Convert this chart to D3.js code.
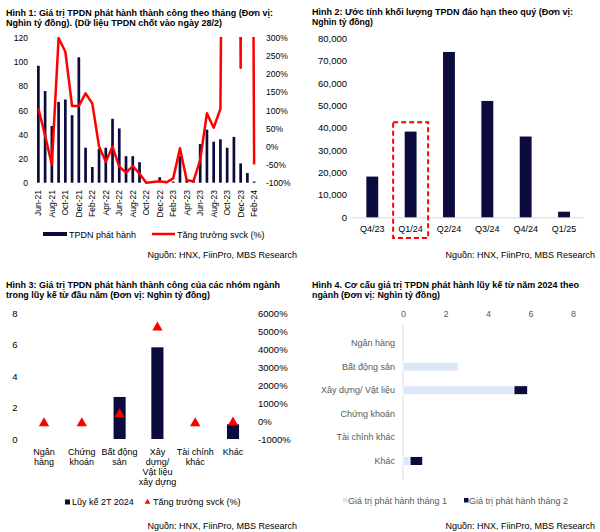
<!DOCTYPE html>
<html><head><meta charset="utf-8">
<script src="https://cdn.jsdelivr.net/npm/d3@7"></script>
<style>
html,body{margin:0;padding:0;background:#fff;}
svg{display:block;font-family:"Liberation Sans",Arial,sans-serif;}
</style></head>
<body>
<svg id="c" width="600" height="532"></svg>
<script>
// ---------- DATA ----------
const months = ["Jun-21","Jul-21","Aug-21","Sep-21","Oct-21","Nov-21","Dec-21","Jan-22","Feb-22","Mar-22","Apr-22","May-22","Jun-22","Jul-22","Aug-22","Sep-22","Oct-22","Nov-22","Dec-22","Jan-23","Feb-23","Mar-23","Apr-23","May-23","Jun-23","Jul-23","Aug-23","Sep-23","Oct-23","Nov-23","Dec-23","Jan-24","Feb-24"];
const issuance = [97,76,47,67,69,56,104,29,13,28,29,53,45,22,22,17,0.3,0.5,4.5,0.3,1,22,2,1.5,32,44,34,36,29,38,16,8,1];
const growth = [105,30,-50,300,262,112,112,147,119,0,-42,0,-56,-72,-54,-75,-100,-98,-96,-99,-88,-5,-93,-96,-37,92,52,104,2500,3500,218,4000,-50];
const leftTicks1 = [0,20,40,60,80,100,120];
const rightTicks1 = [-100,-50,0,50,100,150,200,250,300];

const quarters = ["Q4/23","Q1/24","Q2/24","Q3/24","Q4/24","Q1/25"];
const maturity = [18200,38300,73900,52000,36100,2500];
const ticks2 = [0,10000,20000,30000,40000,50000,60000,70000,80000];

const sectors3 = ["Ngân hàng","Chứng khoán","Bất động sản","Xây dựng/ Vật liệu xây dựng","Tài chính khác","Khác"];
const sectorLines3 = [["Ngân","hàng"],["Chứng","khoán"],["Bất động","sản"],["Xây","dựng/","Vật liệu","xây dựng"],["Tài chính","khác"],["Khác"]];
const ytd3 = [0,0,2.67,5.82,0,0.93];
const growth3 = [-100,-100,400,5200,-100,-60];
const leftTicks3 = [0,2,4,6,8];
const rightTicks3 = [-1000,0,1000,2000,3000,4000,5000,6000];

const sectors4 = ["Ngân hàng","Bất động sản","Xây dựng/ Vật liệu","Chứng khoán","Tài chính khác","Khác"];
const month1 = [0,2.6,5.22,0,0,0.33];
const month2 = [0,0,0.65,0,0,0.6];
const ticks4 = [0,2,4,6,8];

// ---------- STYLE ----------
const NAVY = "#0c0b3e", RED = "#ff0000", LIGHT = "#dbe7f7", GRAY = "#595959";
const svg = d3.select("#c");
svg.append("rect").attr("width",600).attr("height",532).attr("fill","#fff");

function title(x, y, txt, len){
  svg.append("text").attr("x",x).attr("y",y).attr("font-size",9.5).attr("font-weight","bold")
    .attr("fill","#000").attr("textLength",len).attr("lengthAdjust","spacingAndGlyphs").text(txt);
}
function source(xEnd, y){
  svg.append("text").attr("x",xEnd).attr("y",y).attr("text-anchor","end").attr("font-size",9)
    .attr("fill","#000").text("Nguồn: HNX, FiinPro, MBS Research");
}
function cleanAxis(g){ g.select(".domain").remove(); g.selectAll(".tick line").remove(); g.attr("font-family",null); }

// ================= CHART 1 =================
title(6,15.5,"Hình 1: Giá trị TPDN phát hành thành công theo tháng (Đơn vị:",267);
title(6,25.5,"Nghìn tỷ đồng). (Dữ liệu TPDN chốt vào ngày 28/2)",216);

const x1 = d3.scaleBand().domain(months).range([35,257.5]).paddingInner(0.6).paddingOuter(0.3);
const y1 = d3.scaleLinear().domain([0,120]).range([182.7,38]);
const y1r = d3.scaleLinear().domain([-100,300]).range([182.7,38]);

svg.append("g").attr("transform","translate(28,0)")
  .call(d3.axisLeft(y1).tickValues(leftTicks1).tickSize(0).tickPadding(0))
  .call(cleanAxis).selectAll("text").attr("font-size",8.5).attr("fill","#000");
svg.append("g").attr("transform","translate(266,0)")
  .call(d3.axisRight(y1r).tickValues(rightTicks1).tickSize(0).tickPadding(0).tickFormat(d=>d+"%"))
  .call(cleanAxis).selectAll("text").attr("font-size",8.5).attr("fill","#000");

svg.append("g").selectAll("rect").data(months).join("rect")
  .attr("x",d=>x1(d)).attr("width",x1.bandwidth())
  .attr("y",(d,i)=>y1(issuance[i])).attr("height",(d,i)=>y1(0)-y1(issuance[i]))
  .attr("fill",NAVY);

const ax1 = svg.append("g").attr("transform","translate(0,186)")
  .call(d3.axisBottom(x1).tickValues(months.filter((d,i)=>i%2===0)).tickSize(0))
  .call(cleanAxis);
ax1.selectAll("text").attr("transform","rotate(-90)").attr("x",-4).attr("y",0).attr("dy","0.34em")
  .style("text-anchor","end").attr("font-size",8.5).attr("fill","#000");

svg.append("clipPath").attr("id","clip1").append("rect").attr("x",30).attr("y",37).attr("width",235).attr("height",150);
svg.append("path").datum(growth).attr("clip-path","url(#clip1)")
  .attr("d", d3.line().x((d,i)=>x1(months[i])+x1.bandwidth()/2).y(d=>y1r(d)))
  .attr("fill","none").attr("stroke",RED).attr("stroke-width",2.5).attr("stroke-linejoin","round");

svg.append("rect").attr("x",43).attr("y",232).attr("width",24).attr("height",4).attr("fill",NAVY);
svg.append("text").attr("x",69).attr("y",237.5).attr("font-size",9).text("TPDN phát hành");
svg.append("line").attr("x1",152).attr("x2",175).attr("y1",234).attr("y2",234).attr("stroke",RED).attr("stroke-width",2.5);
svg.append("text").attr("x",177).attr("y",237.5).attr("font-size",9).text("Tăng trưởng svck (%)");
source(297,258);

// ================= CHART 2 =================
title(312,15,"Hình 2: Ước tính khối lượng TPDN đáo hạn theo quý (Đơn vị:",261);
title(312,25,"Nghìn tỷ đồng)",61);

const x2 = d3.scaleBand().domain(quarters).range([353.1,583.2]).paddingInner(0.69).paddingOuter(0.345);
const y2 = d3.scaleLinear().domain([0,80000]).range([217.3,38.3]);
svg.append("g").attr("transform","translate(347,0)")
  .call(d3.axisLeft(y2).tickValues(ticks2).tickSize(0).tickPadding(0).tickFormat(d3.format(",")))
  .call(cleanAxis).selectAll("text").attr("font-size",9.5).attr("fill","#000");
svg.append("line").attr("x1",352).attr("x2",584).attr("y1",y2(0)+0.5).attr("y2",y2(0)+0.5).attr("stroke","#d9d9d9");
svg.append("g").selectAll("rect").data(quarters).join("rect")
  .attr("x",d=>x2(d)).attr("width",x2.bandwidth())
  .attr("y",(d,i)=>y2(maturity[i])).attr("height",(d,i)=>y2(0)-y2(maturity[i])).attr("fill",NAVY);
svg.append("g").attr("transform",`translate(0,${y2(0)})`)
  .call(d3.axisBottom(x2).tickSize(0).tickPadding(8))
  .call(cleanAxis).selectAll("text").attr("font-size",9).attr("fill","#000");
const hx = x2("Q1/24")+x2.bandwidth()/2;
svg.append("rect").attr("x",hx-17.5).attr("width",35).attr("y",y2(42500)).attr("height",238-y2(42500))
  .attr("fill","none").attr("stroke",RED).attr("stroke-width",2).attr("stroke-dasharray","5,3");
source(595,258);

// ================= CHART 3 =================
title(6,288,"Hình 3: Giá trị TPDN phát hành thành công của các nhóm ngành",274);
title(6,298,"trong lũy kế từ đầu năm (Đơn vị: Nghìn tỷ đồng)",204);

const x3 = d3.scaleBand().domain(sectors3).range([25.1,251.9]).paddingInner(0.68).paddingOuter(0.34);
const y3 = d3.scaleLinear().domain([0,8]).range([439,313]);
const y3r = d3.scaleLinear().domain([-1000,6000]).range([439.5,313]);
svg.append("g").attr("transform","translate(18,0)")
  .call(d3.axisLeft(y3).tickValues(leftTicks3).tickSize(0).tickPadding(0))
  .call(cleanAxis).selectAll("text").attr("font-size",9.5).attr("fill","#000").style("text-anchor","middle").attr("x",-3);
svg.append("g").attr("transform","translate(258,0)")
  .call(d3.axisRight(y3r).tickValues(rightTicks3).tickSize(0).tickPadding(0).tickFormat(d=>d+"%"))
  .call(cleanAxis).selectAll("text").attr("font-size",9.5).attr("fill","#000");
svg.append("g").selectAll("rect").data(sectors3).join("rect")
  .attr("x",d=>x3(d)).attr("width",x3.bandwidth())
  .attr("y",(d,i)=>y3(ytd3[i])).attr("height",(d,i)=>y3(0)-y3(ytd3[i])).attr("fill",NAVY);
svg.append("g").selectAll("path").data(sectors3).join("path")
  .attr("transform",(d,i)=>`translate(${x3(d)+x3.bandwidth()/2},${y3r(growth3[i])})`)
  .attr("d",d3.symbol(d3.symbolTriangle).size(46)).attr("fill",RED);
const ax3 = svg.append("g").attr("transform","translate(0,439)")
  .call(d3.axisBottom(x3).tickSize(0)).call(cleanAxis);
ax3.selectAll("text").each(function(d,i){
  const t = d3.select(this).text(null).attr("y",16).attr("dy",0).attr("font-size",9).attr("fill","#000");
  sectorLines3[i].forEach((ln,k)=>t.append("tspan").attr("x",0).attr("dy",k===0?0:10).text(ln));
});
svg.append("rect").attr("x",65).attr("y",499.5).attr("width",5).attr("height",5).attr("fill",NAVY);
svg.append("text").attr("x",72).attr("y",505).attr("font-size",9).text("Lũy kế 2T 2024");
svg.append("path").attr("transform","translate(147.5,502)").attr("d",d3.symbol(d3.symbolTriangle).size(14)).attr("fill",RED);
svg.append("text").attr("x",153).attr("y",505).attr("font-size",9).text("Tăng trưởng svck (%)");
source(297,529);

// ================= CHART 4 =================
title(312,288,"Hình 4. Cơ cấu giá trị TPDN phát hành lũy kế từ năm 2024 theo",267);
title(312,298,"ngành (Đơn vị: Nghìn tỷ đồng)",128);

const x4 = d3.scaleLinear().domain([0,8]).range([403,573]);
const y4 = d3.scaleBand().domain(sectors4).range([324,480]).padding(0.615);
svg.append("g").attr("transform","translate(0,317)")
  .call(d3.axisTop(x4).tickValues(ticks4).tickSize(0).tickPadding(0))
  .call(cleanAxis).selectAll("text").attr("font-size",9).attr("fill",GRAY);
svg.append("line").attr("x1",403).attr("x2",403).attr("y1",324).attr("y2",480).attr("stroke","#d9d9d9");
svg.append("g").attr("transform","translate(395,0)")
  .call(d3.axisLeft(y4).tickSize(0).tickPadding(0))
  .call(cleanAxis).selectAll("text").attr("font-size",9).attr("fill",GRAY);
const rows4 = sectors4.map((s,i)=>({s, m1:month1[i], m2:month2[i]}));
const stack4 = d3.stack().keys(["m1","m2"])(rows4);
const cols4 = [LIGHT, NAVY];
stack4.forEach((layer,li)=>{
  svg.append("g").selectAll("rect").data(layer.filter(d=>d[1]-d[0]>0)).join("rect")
    .attr("x",d=>x4(d[0])).attr("width",d=>x4(d[1])-x4(d[0]))
    .attr("y",d=>y4(d.data.s)).attr("height",y4.bandwidth())
    .attr("fill",cols4[li]).attr("stroke","#fff").attr("stroke-width",1);
});
svg.append("rect").attr("x",343).attr("y",498).attr("width",4.5).attr("height",4.5).attr("fill",LIGHT);
svg.append("text").attr("x",348).attr("y",503.5).attr("font-size",9).attr("fill",GRAY).text("Giá trị phát hành tháng 1");
svg.append("rect").attr("x",464).attr("y",498).attr("width",4.5).attr("height",4.5).attr("fill",NAVY);
svg.append("text").attr("x",469).attr("y",503.5).attr("font-size",9).attr("fill",GRAY).text("Giá trị phát hành tháng 2");
source(595,529);
</script>
</body></html>
